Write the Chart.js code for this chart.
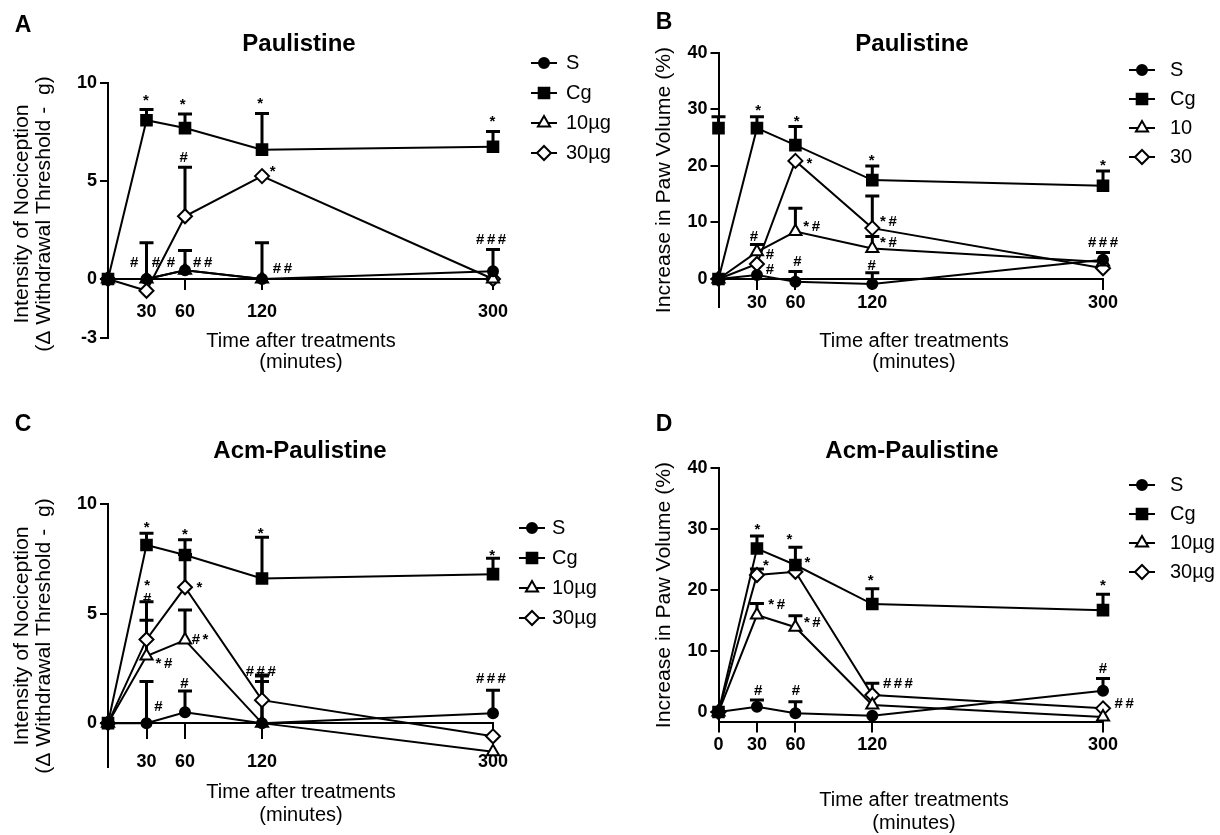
<!DOCTYPE html>
<html>
<head>
<meta charset="utf-8">
<script src="https://cdn.jsdelivr.net/npm/chart.js@4.4.1/dist/chart.umd.min.js"></script>
<style>
  html, body { margin: 0; padding: 0; background: #fff; }
  #fig { position: relative; width: 1220px; height: 835px; overflow: hidden; background: #fff; }
  #fig canvas { position: absolute; left: 0; top: 0; }
</style>
</head>
<body>
<div id="fig">
  <canvas id="panelA" width="1220" height="835"></canvas>
  <canvas id="panelB" width="1220" height="835"></canvas>
  <canvas id="panelC" width="1220" height="835"></canvas>
  <canvas id="panelD" width="1220" height="835"></canvas>
</div>
<script>
// time points (minutes after treatment)
const times = [0, 30, 60, 120, 300];
const groupNames = ['S', 'Cg', '10µg', '30µg'];
const groupNamesB = ['S', 'Cg', '10', '30'];

// A - nociception, Paulistine (mean, upper SEM)
const aS = [0, 0, 0.45, 0, 0.4];
const aSErr = [null, 1.85, 1.0, 1.85, 1.1];
const aCg = [0, 8.1, 7.7, 6.6, 6.75];
const aCgErr = [null, 0.55, 0.72, 1.85, 0.77];
const a10 = [0, 0, 0.45, 0, 0];
const a10Err = [null, null, null, null, null];
const a30 = [0, -0.6, 3.2, 5.25, 0];
const a30Err = [null, null, 2.5, null, null];

// B - paw volume, Paulistine
const bS = [0, 0.7, -0.5, -0.9, 3.4];
const bSErr = [null, null, 1.8, 2.0, 1.3];
const bCg = [0, 26.7, 23.7, 17.5, 16.5];
const bCgErr = [null, 2.0, 3.3, 2.5, 2.6];
const bCgStray = [26.7];      // extra Cg symbol drawn on the y axis
const bCgStrayErr = [2.0];
const b10 = [0, 4.8, 8.4, 5.4, 3.0];
const b10Err = [null, 1.3, 4.1, 2.1, null];
const b30 = [0, 2.65, 20.9, 9.0, 1.9];
const b30Err = [null, null, null, 5.7, null];

// C - nociception, Acm-Paulistine
const cS = [0, 0, 0.5, 0, 0.45];
const cSErr = [null, 1.9, 0.97, 1.9, 1.05];
const cCg = [0, 8.13, 7.67, 6.6, 6.8];
const cCgErr = [null, 0.53, 0.7, 1.88, 0.72];
const c10 = [0, 3.06, 3.79, 0, -1.3];
const c10Err = [null, 1.64, 1.37, 2.2, null];
const c30 = [0, 3.82, 6.2, 1.05, -0.6];
const c30Err = [null, 1.72, 1.5, 1.1, null];

// D - paw volume, Acm-Paulistine
const dS = [0, 0.87, -0.2, -0.6, 3.5];
const dSErr = [null, 1.1, 1.9, null, 2.0];
const dCg = [0, 26.8, 24.1, 17.7, 16.7];
const dCgErr = [null, 2.05, 2.9, 2.5, 2.6];
const d10 = [0, 15.9, 13.9, 1.15, -0.8];
const d10Err = [null, 1.9, 1.9, null, null];
const d30 = [0, 22.46, 23.0, 2.8, 0.6];
const d30Err = [null, 1.0, null, 1.9, null];

// axis ticks
const xTicksABC = [30, 60, 120, 300];
const xTicksD = [0, 30, 60, 120, 300];
const yTicksA = [-3, 0, 5, 10];
const yTicksB = [0, 10, 20, 30, 40];
const yTicksC = [0, 5, 10];
const yTicksD = [0, 10, 20, 30, 40];

// significance marks: [minutes, value, text]
const aMarks = [[29.6, 9.22, '*'], [58.2, 9.01, '*'], [118.5, 9.1, '*'], [299.6, 8.15, '*'],
  [59, 6.24, '#'], [128.3, 5.6, '*'], [20.3, 0.88, '#'], [37.4, 0.88, '#'], [49.1, 0.88, '#'],
  [73.8, 0.88, '##'], [135.9, 0.54, '##'], [298.5, 2.02, '###']];
const bMarks = [[31, 30.3, '*'], [61, 28.4, '*'], [119.6, 21.5, '*'], [300, 20.6, '*'],
  [70.9, 20.9, '*'], [72.7, 9.4, '*#'], [132.6, 10.3, '*#'], [132.6, 6.6, '*#'],
  [27.7, 7.6, '#'], [40.2, 4.5, '#'], [40.2, 1.77, '#'], [61.5, 3.1, '#'], [119.6, 2.5, '#'],
  [300, 6.6, '###']];
const cMarks = [[30.1, 9.04, '*'], [60, 8.7, '*'], [119, 8.77, '*'], [299.3, 7.78, '*'],
  [30.6, 6.38, '*'], [30.6, 5.69, '#'], [71.2, 6.3, '*'], [71.7, 3.82, '#*'], [43.6, 2.75, '*#'],
  [39.2, 0.78, '#'], [59.5, 1.84, '#'], [119, 2.39, '###'], [298.4, 2.04, '###']];
const dMarks = [[30.3, 30.3, '*'], [55.3, 28.7, '*'], [69.3, 24.9, '*'], [37, 24.5, '*'],
  [45.4, 17.7, '*#'], [73.2, 14.8, '*#'], [118.8, 21.9, '*'], [300, 21.1, '*'],
  [31, 3.6, '#'], [60.5, 3.6, '#'], [140, 4.7, '###'], [300, 7.2, '#'], [316.5, 1.4, '##']];

const FONT = '"Liberation Sans", Arial, Helvetica, sans-serif';

const markerStyles = [
  { pointStyle: 'circle', radius: 5, fill: '#000' },
  { pointStyle: 'rect', radius: 7.5, fill: '#000' },
  { pointStyle: 'triangle', radius: 7, fill: '#fff' },
  { pointStyle: 'rectRot', radius: 7, fill: '#fff' }
];

function lineSet(label, xs, values, st, showLine) {
  return {
    label: label,
    data: values.map((v, i) => ({ x: xs[i], y: v })),
    showLine: showLine !== false,
    borderColor: '#000', borderWidth: 2, tension: 0, clip: false,
    pointStyle: st.pointStyle, pointRadius: st.radius, pointHoverRadius: st.radius,
    pointBackgroundColor: st.fill, pointBorderColor: '#000', pointBorderWidth: 2
  };
}

function drawText(ctx, text, x, y, size, weight, align, sx) {
  ctx.save();
  ctx.font = weight + ' ' + size + 'px ' + FONT;
  ctx.textBaseline = 'middle';
  ctx.textAlign = align || 'center';
  ctx.fillStyle = '#000';
  ctx.translate(x, y);
  ctx.scale(sx || 1, 1);
  ctx.fillText(text, 0, 0);
  ctx.restore();
}

function drawMarker(ctx, st, x, y) {
  const r = st.radius;
  ctx.beginPath();
  if (st.pointStyle === 'circle') {
    ctx.arc(x, y, r, 0, Math.PI * 2);
  } else if (st.pointStyle === 'rect') {
    const s = r * Math.SQRT1_2;
    ctx.rect(x - s, y - s, 2 * s, 2 * s);
  } else if (st.pointStyle === 'triangle') {
    for (let k = 0; k < 3; k++) {
      const a = k * 2 * Math.PI / 3;
      const px = x + Math.sin(a) * r, py = y - Math.cos(a) * r;
      if (k === 0) ctx.moveTo(px, py); else ctx.lineTo(px, py);
    }
    ctx.closePath();
  } else {
    ctx.moveTo(x - r, y); ctx.lineTo(x, y - r); ctx.lineTo(x + r, y); ctx.lineTo(x, y + r);
    ctx.closePath();
  }
  ctx.fillStyle = st.fill;
  ctx.fill();
  ctx.lineWidth = 2;
  ctx.strokeStyle = '#000';
  ctx.stroke();
}

// * and # flags, centred on their glyph box
function drawMark(ctx, text, cx, cy) {
  ctx.save();
  ctx.font = 'bold 15px ' + FONT;
  ctx.fillStyle = '#000';
  ctx.textBaseline = 'alphabetic';
  ctx.textAlign = 'left';
  const gap = 2.5;
  const m = ctx.measureText(text);
  const widths = [...text].map(ch => ctx.measureText(ch).width);
  const total = widths.reduce((s, w) => s + w, 0) + gap * (widths.length - 1);
  const base = cy + (m.actualBoundingBoxAscent - m.actualBoundingBoxDescent) / 2;
  let x = cx - total / 2;
  [...text].forEach((ch, i) => {
    ctx.fillText(ch, x, base);
    x += widths[i] + gap;
  });
  ctx.restore();
}

function decor(p) {
  return {
    id: 'decor' + p.letter[0],
    beforeDatasetsDraw(chart) {
      // one-sided error bars (above the mean)
      const ctx = chart.ctx, xs = chart.scales.x, ys = chart.scales.y;
      ctx.save();
      ctx.strokeStyle = '#000';
      ctx.lineWidth = 3;
      chart.data.datasets.forEach((ds, i) => {
        const e = p.errs[i];
        if (!e) return;
        ds.data.forEach((pt, j) => {
          if (e[j] == null) return;
          const x = xs.getPixelForValue(pt.x);
          const y0 = ys.getPixelForValue(pt.y);
          const y1 = ys.getPixelForValue(pt.y + e[j]);
          ctx.beginPath();
          ctx.moveTo(x, y0); ctx.lineTo(x, y1);
          ctx.moveTo(x - 7, y1); ctx.lineTo(x + 7, y1);
          ctx.stroke();
        });
      });
      ctx.restore();
    },
    afterDraw(chart) {
      const ctx = chart.ctx, xs = chart.scales.x, ys = chart.scales.y;
      drawText(ctx, p.letter[0], p.letter[1], p.letter[2], 23, 'bold');
      drawText(ctx, p.title[0], p.title[1], p.title[2], 24, 'bold');

      // rotated y title
      p.yTitle.lines.forEach((line, i) => {
        ctx.save();
        ctx.translate(p.yTitle.xs[i], p.yTitle.cy);
        ctx.rotate(-Math.PI / 2);
        ctx.scale(1.06, 1);
        ctx.font = '20px ' + FONT;
        ctx.textAlign = 'center';
        ctx.textBaseline = 'middle';
        ctx.fillStyle = '#000';
        ctx.fillText(line, 0, 0);
        ctx.restore();
      });

      p.xTitle.lines.forEach((line, i) => drawText(ctx, line, p.xTitle.cx, p.xTitle.ys[i], 20, 'normal'));

      // legend: line + symbol + name
      const lg = p.legend;
      lg.labels.forEach((name, i) => {
        const y = lg.y0 + i * lg.dy;
        ctx.save();
        ctx.strokeStyle = '#000';
        ctx.lineWidth = 2;
        ctx.beginPath();
        ctx.moveTo(lg.x1, y); ctx.lineTo(lg.x2, y);
        ctx.stroke();
        drawMarker(ctx, markerStyles[i], (lg.x1 + lg.x2) / 2, y);
        ctx.restore();
        drawText(ctx, name, lg.tx, y, 20, 'normal', 'left');
      });

      p.marks.forEach(m => drawMark(ctx, m[2], xs.getPixelForValue(m[0]), ys.getPixelForValue(m[1])));
    }
  };
}

function buildPanel(id, p) {
  const sets = p.series.map((vals, i) => lineSet(p.legend.labels[i], times, vals, markerStyles[i]));
  if (p.extra) sets.push(lineSet('Cg', [0], p.extra, markerStyles[1], false));
  const axisFont = { family: FONT, size: 18, weight: 'bold' };
  const yBox = 60;                      // room kept for the y tick labels
  const xBox = p.xAtZero ? 0 : 40;      // room for bottom tick labels (panel D)
  new Chart(document.getElementById(id), {
    type: 'line',
    data: { datasets: sets },
    options: {
      responsive: false,
      animation: false,
      devicePixelRatio: 1,
      events: [],
      layout: { padding: { left: p.area.l - yBox, top: p.area.t, right: 1220 - p.area.r, bottom: 835 - p.area.b - xBox } },
      plugins: { legend: { display: false }, tooltip: { enabled: false }, title: { display: false } },
      scales: {
        x: {
          type: 'linear', min: 0, max: 300,
          position: p.xAtZero ? { y: 0 } : 'bottom',
          afterFit: s => { s.height = xBox; },
          afterBuildTicks: s => { s.ticks = p.xTicks.map(v => ({ value: v })); },
          ticks: { color: '#000', font: axisFont, padding: p.xPad, autoSkip: false, maxRotation: 0 },
          grid: { display: true, drawOnChartArea: false, drawTicks: true, tickLength: p.xTick, color: '#000', lineWidth: 2 },
          border: { display: true, color: '#000', width: 2 }
        },
        y: {
          type: 'linear', min: p.yMin, max: p.yMax,
          afterFit: s => { s.width = yBox; },
          afterBuildTicks: s => { s.ticks = p.yTicks.map(v => ({ value: v })); },
          ticks: { color: '#000', font: axisFont, padding: 3 },
          grid: { display: true, drawOnChartArea: false, drawTicks: true, tickLength: 8, color: '#000', lineWidth: 2 },
          border: { display: true, color: '#000', width: 2 }
        }
      }
    },
    plugins: [decor(p)]
  });
}

const nociTitle = ['Intensity of Nociception', '(\u0394 Withdrawal Threshold -  g)'];
const pawTitle = ['Increase in Paw Volume (%)'];
const timeTitle = ['Time after treatments', '(minutes)'];

buildPanel('panelA', {
  series: [aS, aCg, a10, a30], errs: [aSErr, aCgErr, a10Err, a30Err], marks: aMarks,
  area: { l: 108, t: 83, r: 493, b: 337.8 }, yMin: -3, yMax: 10, yTicks: yTicksA,
  xTicks: xTicksABC, xAtZero: true, xTick: 10, xPad: 12,
  letter: ['A', 23, 26], title: ['Paulistine', 299, 44],
  yTitle: { lines: nociTitle, xs: [22, 44], cy: 214 },
  xTitle: { lines: timeTitle, cx: 301, ys: [341, 362] },
  legend: { labels: groupNames, x1: 531, x2: 557, tx: 566, y0: 63, dy: 30 }
});

buildPanel('panelB', {
  series: [bS, bCg, b10, b30], errs: [bSErr, bCgErr, b10Err, b30Err, bCgStrayErr], marks: bMarks,
  extra: bCgStray,
  area: { l: 718.5, t: 53, r: 1103, b: 307.2 }, yMin: -5, yMax: 40, yTicks: yTicksB,
  xTicks: xTicksABC, xAtZero: true, xTick: 10, xPad: 3,
  letter: ['B', 664, 23], title: ['Paulistine', 912, 44],
  yTitle: { lines: pawTitle, xs: [664], cy: 180 },
  xTitle: { lines: timeTitle, cx: 914, ys: [341, 362] },
  legend: { labels: groupNamesB, x1: 1129, x2: 1155, tx: 1170, y0: 70, dy: 29 }
});

buildPanel('panelC', {
  series: [cS, cCg, c10, c30], errs: [cSErr, cCgErr, c10Err, c30Err], marks: cMarks,
  area: { l: 108, t: 504, r: 493, b: 767 }, yMin: -2, yMax: 10, yTicks: yTicksC,
  xTicks: xTicksABC, xAtZero: true, xTick: 15, xPad: 13,
  letter: ['C', 23, 425], title: ['Acm-Paulistine', 300, 451],
  yTitle: { lines: nociTitle, xs: [22, 44], cy: 636 },
  xTitle: { lines: timeTitle, cx: 301, ys: [792, 815] },
  legend: { labels: groupNames, x1: 519, x2: 545, tx: 552, y0: 528, dy: 30 }
});

buildPanel('panelD', {
  series: [dS, dCg, d10, d30], errs: [dSErr, dCgErr, d10Err, d30Err], marks: dMarks,
  area: { l: 718.5, t: 468, r: 1103, b: 722.4 }, yMin: -1.7, yMax: 40, yTicks: yTicksD,
  xTicks: xTicksD, xAtZero: false, xTick: 10, xPad: 2,
  letter: ['D', 664, 425], title: ['Acm-Paulistine', 912, 451],
  yTitle: { lines: pawTitle, xs: [664], cy: 595 },
  xTitle: { lines: timeTitle, cx: 914, ys: [800, 823] },
  legend: { labels: groupNames, x1: 1129, x2: 1155, tx: 1170, y0: 485, dy: 29 }
});
</script>
</body>
</html>
